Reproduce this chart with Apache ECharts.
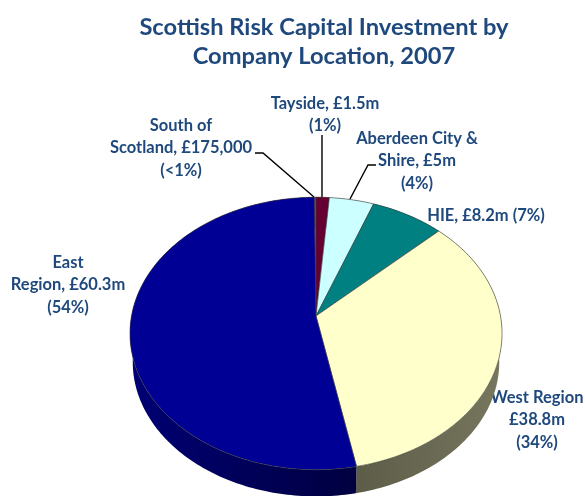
<!DOCTYPE html>
<html>
<head>
<meta charset="utf-8">
<style>html,body{margin:0;padding:0;background:#fff}#chart{width:585px;height:496px}</style>
<script src="https://cdn.jsdelivr.net/npm/echarts@6/dist/echarts.min.js"></script>
</head>
<body>
<div id="chart"></div>
<script>
// Scottish risk capital investment by company location, 2007 (GBP millions)
const categories = ['South of Scotland', 'Tayside', 'Aberdeen City & Shire', 'HIE', 'West Region', 'East Region'];
const investment = [0.175, 1.5, 5, 8.2, 38.8, 60.3];
const labelLines = [
  ['South of', 'Scotland, £175,000', '(<1%)'],
  ['Tayside, £1.5m', '(1%)'],
  ['Aberdeen City &', 'Shire, £5m', '(4%)'],
  ['HIE, £8.2m (7%)'],
  ['West Region', '£38.8m', '(34%)'],
  ['East', 'Region, £60.3m', '(54%)']
];
const topColors = ['#8c8c8c', '#660033', '#ccffff', '#008080', '#ffffcc', '#000094'];
const wallColors = [
  ['#444444', '#444444'], ['#330019', '#330019'], ['#667f7f', '#667f7f'],
  ['#004040', '#004040'], ['#5c5c48', '#77775f'], ['#000074', '#000040']
];

const INK = '#1f497d';
// Label anchor (centre x, first line top y) and leader polyline per slice
const labelPlace = [
  [181, 114, [[255, 153], [263, 153], [314, 197]]],
  [325, 92, [[322, 135], [322, 197]]],
  [417, 127, [[376, 165], [368, 165], [350, 199]]],
  [486, 204, null],
  [537, 386, null],
  [68, 251, null]
];

// Projection of the tilted disc: a circle seen in perspective
const view = { cx: 316, cy: 316, rx: 184.5, ry: 134, k: 0.128, depth: 29, startDeg: -0.6 };
const total = investment.reduce((a, b) => a + b, 0);

function rim(deg, drop, shrink) {
  const t = deg * Math.PI / 180, u = Math.sin(t), v = Math.cos(t), d = 1 + view.k * v;
  return [view.cx + shrink * view.rx * u / d, view.cy - shrink * view.ry * v / d + drop];
}
function sliceSpan(i) {
  let s = 0;
  for (let j = 0; j < i; j++) s += investment[j];
  return [view.startDeg + s / total * 360, view.startDeg + (s + investment[i]) / total * 360];
}
function arc(a, b, drop, shrink) {
  const n = Math.max(2, Math.ceil(b - a)), pts = [];
  for (let i = 0; i <= n; i++) pts.push(rim(a + (b - a) * i / n, drop, shrink));
  return pts;
}

const dataRows = categories.map((name, i) => ({ name, value: investment[i] }));

const option = {
  animation: false,
  backgroundColor: '#fff',
  title: {
    text: 'Scottish Risk Capital Investment by\nCompany Location, 2007',
    left: 319, top: 8, textAlign: 'center',
    textStyle: { fontFamily: 'Lato', fontWeight: 'bold', fontSize: 23.7, lineHeight: 29, color: INK }
  },
  series: [
    { // side wall of the disc
      type: 'custom', coordinateSystem: 'none', data: dataRows, silent: true,
      renderItem(params) {
        const i = params.dataIndex, [a, b] = sliceSpan(i);
        const pts = arc(a, b, 0, 1).concat(arc(a, b, view.depth, 0.985).reverse());
        return {
          type: 'polygon', shape: { points: pts },
          style: {
            fill: new echarts.graphic.LinearGradient(0, 0, 1, 0, [
              { offset: 0, color: wallColors[i][0] }, { offset: 1, color: wallColors[i][1] }
            ]),
            stroke: null
          },
          z2: 1
        };
      }
    },
    { // top face of each slice
      type: 'custom', coordinateSystem: 'none', data: dataRows, silent: true,
      renderItem(params) {
        const i = params.dataIndex, [a, b] = sliceSpan(i);
        const pts = [[view.cx, view.cy]].concat(arc(a, b, 0, 1));
        return {
          type: 'polygon', shape: { points: pts },
          style: { fill: topColors[i], stroke: '#3a3a3a', lineWidth: 0.6, lineJoin: 'round' },
          z2: 2
        };
      }
    },
    { // leader lines and slice captions
      type: 'custom', coordinateSystem: 'none', data: dataRows, silent: true,
      renderItem(params) {
        const i = params.dataIndex, [x, y, leader] = labelPlace[i];
        const children = [{
          type: 'text', x, y,
          style: {
            text: labelLines[i].join('\n'), align: 'center', verticalAlign: 'top',
            font: 'bold 16.5px Lato', lineHeight: 22.5, fill: INK
          }
        }];
        if (leader) children.unshift({
          type: 'polyline', shape: { points: leader },
          style: { stroke: '#000', lineWidth: 1.4, fill: null }
        });
        return { type: 'group', children };
      }
    }
  ]
};
echarts.init(document.getElementById('chart')).setOption(option);
</script>
</body>
</html>
